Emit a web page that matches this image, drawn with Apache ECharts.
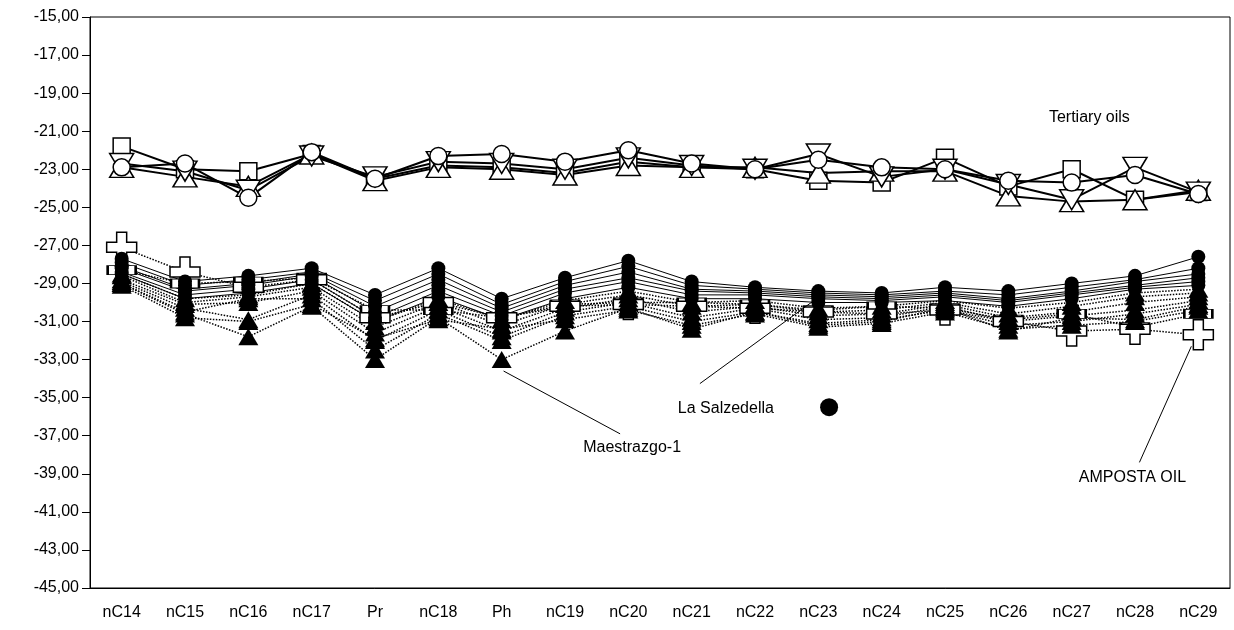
<!DOCTYPE html>
<html><head><meta charset="utf-8">
<script src="https://cdn.jsdelivr.net/npm/echarts@6/dist/echarts.min.js"></script>
<style>html,body{margin:0;padding:0;background:#fff}#c{width:1234px;height:630px}</style>
</head><body><div id="c"></div>
<script>
const categories = ['nC14','nC15','nC16','nC17','Pr','nC18','Ph','nC19','nC20','nC21','nC22','nC23','nC24','nC25','nC26','nC27','nC28','nC29'];
const yTicks = [-45,-43,-41,-39,-37,-35,-33,-31,-29,-27,-25,-23,-21,-19,-17,-15];

// Tertiary oils (open markers, solid lines)
const tertSquare   = [-21.8,-23.0,-23.1,-22.2,-23.5,-22.8,-22.9,-23.2,-22.6,-22.9,-23.0,-23.6,-23.7,-22.4,-23.9,-23.0,-24.6,-24.2];
const tertCircle   = [-22.9,-22.7,-24.5,-22.1,-23.5,-22.3,-22.2,-22.6,-22.0,-22.7,-23.0,-22.5,-22.9,-23.0,-23.6,-23.7,-23.3,-24.3];
const tertTriUp    = [-22.9,-23.4,-23.9,-22.2,-23.6,-22.9,-23.0,-23.3,-22.8,-22.9,-22.9,-23.2,-23.1,-23.1,-24.4,-24.7,-24.6,-24.1];
const tertTriDown  = [-22.7,-23.1,-24.1,-22.3,-23.4,-22.6,-22.7,-23.0,-22.4,-22.8,-23.0,-22.2,-23.4,-23.0,-23.8,-24.6,-22.9,-24.2];

// Lower group: filled circles (solid thin lines)
const circ1 = [-27.7,-28.9,-28.6,-28.2,-29.6,-28.2,-29.8,-28.7,-27.8,-28.9,-29.2,-29.4,-29.5,-29.2,-29.4,-29.0,-28.6,-27.6];
const circ2 = [-27.9,-29.1,-28.8,-28.4,-29.9,-28.5,-30.1,-28.9,-28.1,-29.1,-29.3,-29.5,-29.6,-29.4,-29.6,-29.2,-28.8,-28.2];
const circ3 = [-28.1,-29.3,-29.0,-28.5,-30.2,-28.8,-30.3,-29.1,-28.4,-29.3,-29.4,-29.6,-29.7,-29.5,-29.8,-29.4,-28.9,-28.5];
const circ4 = [-28.2,-29.4,-29.1,-28.6,-30.5,-29.1,-30.5,-29.3,-28.7,-29.4,-29.5,-29.7,-29.8,-29.6,-29.9,-29.5,-29.1,-28.7];
const circ5 = [-28.4,-29.6,-29.3,-28.8,-30.8,-29.4,-30.7,-29.5,-28.9,-29.6,-29.6,-29.8,-29.9,-29.7,-30.0,-29.6,-29.2,-28.9];
const circ6 = [-28.5,-29.8,-29.5,-29.0,-31.0,-29.7,-30.9,-29.8,-29.2,-29.8,-29.8,-30.0,-30.0,-29.9,-30.2,-29.8,-29.3,-29.1];

// Lower group: filled triangles (dotted lines)
const tri1 = [-28.5,-29.8,-29.6,-29.0,-31.0,-29.8,-30.9,-29.9,-29.4,-30.0,-29.9,-30.3,-30.2,-29.9,-30.3,-30.0,-29.5,-29.3];
const tri2 = [-28.6,-30.0,-29.7,-29.2,-31.3,-30.0,-31.2,-30.1,-29.6,-30.2,-30.1,-30.5,-30.4,-30.0,-30.6,-30.2,-29.7,-29.5];
const tri3 = [-28.8,-30.1,-30.0,-29.4,-31.6,-30.2,-31.5,-30.3,-29.8,-30.5,-30.2,-30.7,-30.6,-30.1,-30.8,-30.5,-30.0,-29.7];
const tri4 = [-28.9,-30.3,-30.9,-29.6,-32.0,-30.4,-31.8,-30.5,-30.0,-30.8,-30.3,-30.9,-30.8,-30.2,-31.0,-30.7,-30.4,-29.9];
const tri5 = [-29.0,-30.5,-29.8,-29.8,-32.5,-30.6,-32.0,-30.7,-30.2,-31.0,-30.5,-31.1,-30.9,-30.4,-31.2,-31.0,-30.6,-30.1];
const tri6 = [-29.1,-30.8,-31.0,-30.1,-31.9,-30.9,-31.4,-30.9,-30.4,-31.2,-30.6,-31.3,-31.1,-30.5,-31.4,-31.2,-31.0,-30.4];
const maestrazgo = [-29.0,-30.6,-31.8,-30.2,-33.0,-30.8,-33.0,-31.5,-30.3,-31.4,-30.5,-31.2,-31.0,-30.3,-31.5,-30.8,-30.9,-30.2];

// Open rectangle series and AMPOSTA OIL (open cross)
const rectSeries = [-28.3,-29.0,-28.9,-28.7,-30.4,-30.4,-30.8,-30.1,-30.0,-30.0,-30.1,-30.4,-30.2,-30.3,-30.9,-30.6,-31.3,-30.6];
const amposta    = [-27.1,-28.4,-29.2,-28.8,-30.8,-30.0,-30.8,-30.2,-30.1,-30.2,-30.3,-30.5,-30.6,-30.4,-31.0,-31.5,-31.4,-31.7];

// Annotations (index position along categories, value)
const noteTexts = ['Tertiary oils','La Salzedella','Maestrazgo-1','AMPOSTA OIL'];
const notePos   = [[15.28,-20.3],[9.54,-35.55],[8.06,-37.6],[15.96,-39.2]];
const salzDot   = [11.17,-35.5];
const noteLines = [
  [[9.13,-34.26],[10.93,-29.9]],
  [[6.03,-33.6],[7.87,-36.9]],
  [[16.89,-32.3],[16.07,-38.4]]
];

const fmt = v => v.toFixed(2).replace('.', ',');
const FONT = 'Liberation Sans, Arial, sans-serif';
const crossPath = 'path://M1,0H2V1H3V2H2V3H1V2H0V1H1Z';

const series = [];
function add(data, opt) {
  series.push(Object.assign({
    type: 'line', data: data, xAxisIndex: 0, yAxisIndex: 0,
    symbolKeepAspect: false, animation: false,
    emphasis: {disabled: true}
  }, opt));
}
const openItem = {color: '#fff', borderColor: '#000', borderWidth: 1.5, opacity: 1};
// lower rect & cross
add(rectSeries, {symbol:'rect', symbolSize:[28,9], itemStyle:openItem, lineStyle:{color:'#000', width:1.5, type:'dotted'}});
add(amposta, {symbol:crossPath, symbolSize:[30,30], itemStyle:openItem, lineStyle:{color:'#000', width:1.5, type:'dotted'}});
// triangles
[tri1,tri2,tri3,tri4,tri5,tri6,maestrazgo].forEach(d => add(d, {symbol:'triangle', symbolSize:[20,17], itemStyle:{color:'#000', opacity:1}, lineStyle:{color:'#000', width:1.5, type:'dotted'}}));
// circles
[circ6,circ5,circ4,circ3,circ2,circ1].forEach(d => add(d, {symbol:'circle', symbolSize:14, itemStyle:{color:'#000', opacity:1}, lineStyle:{color:'#000', width:1}}));
// tertiary
add(tertSquare, {symbol:'rect', symbolSize:17, itemStyle:openItem, lineStyle:{color:'#000', width:2}});
add(tertTriUp, {symbol:'triangle', symbolSize:[24,20], itemStyle:openItem, lineStyle:{color:'#000', width:2}});
add(tertTriDown, {symbol:'triangle', symbolRotate:180, symbolSize:[24,20], itemStyle:openItem, lineStyle:{color:'#000', width:2}});
add(tertCircle, {symbol:'circle', symbolSize:17, itemStyle:openItem, lineStyle:{color:'#000', width:2}});

// annotation lines
noteLines.forEach(l => series.push({type:'line', xAxisIndex:1, yAxisIndex:0, data:l, symbol:'none', animation:false,
  lineStyle:{color:'#000', width:1, opacity:1}, z:5, emphasis:{disabled:true}}));
// annotation texts
series.push({type:'scatter', xAxisIndex:1, yAxisIndex:0, animation:false, symbolSize:1, z:6,
  itemStyle:{color:'#fff', opacity:0},
  data: noteTexts.map((t,i) => ({name:t, value:notePos[i]})),
  label:{show:true, position:'inside', formatter: p => p.name, color:'#000', opacity:1, fontSize:16, fontFamily:FONT},
  emphasis:{disabled:true}});
series.push({type:'scatter', xAxisIndex:1, yAxisIndex:0, animation:false, symbol:'circle', symbolSize:18, z:6,
  itemStyle:{color:'#000', opacity:1}, data:[salzDot], emphasis:{disabled:true}});

const chart = echarts.init(document.getElementById('c'), null, {renderer:'canvas'});
chart.setOption({
  backgroundColor: '#fff',
  animation: false,
  grid: {left: 90, right: 4, top: 17, bottom: 42, show: true, borderColor: '#000', borderWidth: 1},
  xAxis: [{
    type: 'category', data: categories, boundaryGap: true,
    axisLine: {onZero: false, lineStyle: {color: '#000', width: 1}},
    axisTick: {alignWithLabel: true, length: 12, lineStyle: {color: '#000'}},
    axisLabel: {color: '#000', fontSize: 16, fontFamily: FONT, margin: 17, interval: 0},
    splitLine: {show: false}
  }, {
    type: 'value', min: -0.5, max: 17.5, show: false,
    axisLine: {onZero: false}
  }],
  yAxis: {
    type: 'value', min: -45, max: -15,
    axisLine: {show: true, onZero: false, lineStyle: {color: '#000', width: 1}},
    axisTick: {show: true, length: 8, lineStyle: {color: '#000'}, customValues: yTicks},
    axisLabel: {color: '#000', fontSize: 16, fontFamily: FONT, margin: 11, formatter: fmt, customValues: yTicks},
    splitLine: {show: false}
  },
  series: series
});
</script></body></html>
